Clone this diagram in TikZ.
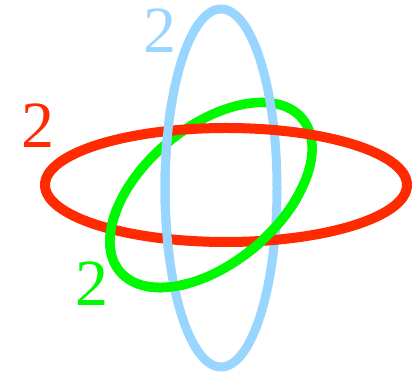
\documentclass[tikz,border=0pt]{standalone}
\usepackage{fontspec}
\setmainfont{Liberation Serif}
\newfontfamily\numfont{Liberation Serif}
\usepackage{xcolor}
\definecolor{ringred}{HTML}{FF2A00}
\definecolor{ringblue}{HTML}{99D6FF}
\definecolor{ringgreen}{HTML}{00F800}
\tikzset{
  redring/.style={line width=10pt, draw=ringred},
  bluering/.style={line width=9pt, draw=ringblue},
  greenring/.style={line width=9.5pt, draw=ringgreen},
  numlabel/.style={inner sep=0pt, font=\numfont\fontsize{66}{66}\selectfont},
}
\begin{document}
\begin{tikzpicture}[x=1pt, y=1pt]
  \useasboundingbox (0,0) rectangle (412,379);
  % base order: green, blue, red
  \draw[greenring] (211,184) ellipse[x radius=119, y radius=68, rotate=40];
  \draw[bluering] (221,191) ellipse[x radius=56, y radius=179];
  \draw[redring] (226,194) ellipse[x radius=181, y radius=57];
  % left strand of blue passes over red
  \begin{scope}
    \clip (148,119) rectangle (195,279);
    \draw[bluering] (221,191) ellipse[x radius=56, y radius=179];
  \end{scope}
  % lower strands of green pass over red and blue
  \begin{scope}
    \clip (112,150) circle[radius=22] (167,92) circle[radius=22]
          (232,120) rectangle (300,200);
    \draw[greenring] (211,184) ellipse[x radius=119, y radius=68, rotate=40];
  \end{scope}
  % Beschriftung
  \node[numlabel, text=ringred] (lblred) at (37.5,253.5) {2};
  \node[numlabel, text=ringblue] (lblblue) at (160,348.5) {2};
  \node[numlabel, text=ringgreen] (lblgreen) at (92,95.5) {2};
\end{tikzpicture}
\end{document}
